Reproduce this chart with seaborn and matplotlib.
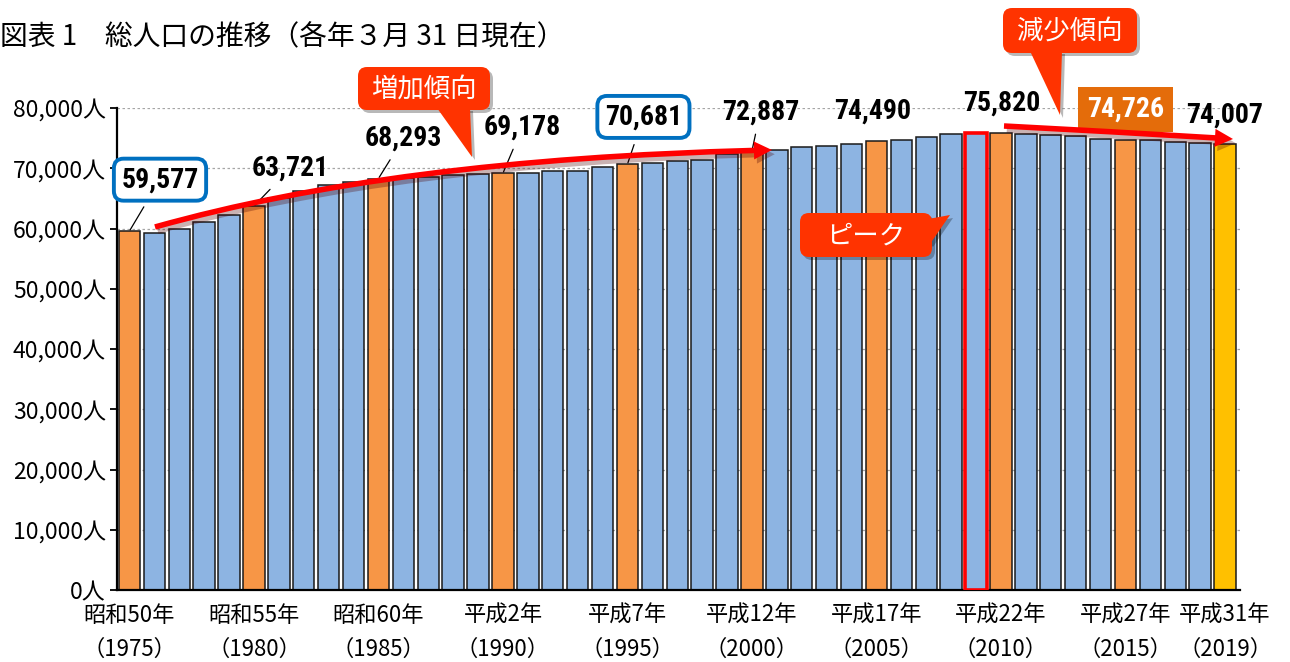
import matplotlib
matplotlib.use("Agg")
import matplotlib.pyplot as plt
import matplotlib.patheffects as pe
import pandas as pd
import seaborn as sns
from matplotlib import font_manager
from matplotlib.path import Path
from matplotlib.patches import FancyBboxPatch, Polygon, FancyArrowPatch

# data (persons, as of 31 March each year)
years = [1975, 1976, 1977, 1978, 1979, 1980, 1981, 1982, 1983, 1984,
         1985, 1986, 1987, 1988, 1989, 1990, 1991, 1992, 1993, 1994,
         1995, 1996, 1997, 1998, 1999, 2000, 2001, 2002, 2003, 2004,
         2005, 2006, 2007, 2008, 2009, 2010, 2011, 2012, 2013, 2014,
         2015, 2016, 2017, 2018, 2019]
population = [59577, 59180, 59900, 61000, 62300, 63721, 65000, 66300, 67200, 67800,
              68293, 68450, 68550, 68800, 69050, 69178, 69220, 69490, 69500, 70270,
              70681, 70820, 71150, 71380, 72380, 72887, 73090, 73470, 73700, 74040,
              74490, 74710, 75140, 75710, 75930, 75820, 75710, 75600, 75380, 74810,
              74726, 74650, 74430, 74260, 74007]

tick_years = [1975, 1980, 1985, 1990, 1995, 2000, 2005, 2010, 2015, 2019]
era_labels = ["昭和50年", "昭和55年", "昭和60年", "平成2年", "平成7年",
              "平成12年", "平成17年", "平成22年", "平成27年", "平成31年"]

census_years = [1975, 1980, 1985, 1990, 1995, 2000, 2005, 2010, 2015]
peak_year = 2009
latest_year = 2019

BLUE = "#8DB4E2"
ORANGE = "#F79646"
YELLOW = "#FFC000"
CALLOUT = "#FF3300"
BOX_BLUE = "#0070C0"
LABEL_ORANGE = "#E46C0A"

W, H = 1290, 662

sns.set_theme(style="white")
plt.rcParams["font.family"] = ["Noto Sans CJK JP", "DejaVu Sans"]

# pick a narrow face for the bold numbers if one is installed
names = {f.name for f in font_manager.fontManager.ttflist}
narrow = [n for n in ["Liberation Sans Narrow", "Roboto Condensed", "Noto Sans Condensed",
                      "Open Sans Condensed", "Arial Narrow"] if n in names]
narrow += sorted(n for n in names if ("Narrow" in n or "Condensed" in n) and n not in narrow)
if narrow:
    num_font, num_size = narrow[0], 20
else:
    num_font, num_size = "Liberation Sans", 17


def px(x, y):
    # reference pixel position -> inches (for fig.dpi_scale_trans)
    return (x / 100, (H - y) / 100)


def fpx(x, y):
    return (x / W, 1 - y / H)


fig = plt.figure(figsize=(W / 100, H / 100), dpi=100)
ax = fig.add_axes([117 / W, 1 - 590 / H, (1240 - 117) / W, (590 - 108) / H])

df = pd.DataFrame({"year": [str(y) for y in years], "pop": population})
palette = {}
for y in years:
    if y == latest_year:
        palette[str(y)] = YELLOW
    elif y in census_years:
        palette[str(y)] = ORANGE
    else:
        palette[str(y)] = BLUE

sns.barplot(data=df, x="year", y="pop", hue="year", palette=palette, legend=False,
            width=0.86, edgecolor="#1A1A1A", linewidth=1.1, saturation=1, ax=ax, zorder=2)

peak_idx = years.index(peak_year)
for patch in ax.patches:
    cx = patch.get_x() + patch.get_width() / 2
    if abs(cx - peak_idx) < 0.3:
        patch.set_edgecolor("#FF0000")
        patch.set_linewidth(2.6)
        patch.set_zorder(3)

ax.set_xlim(-0.5, 44.6)
ax.set_ylim(0, 80000)
ax.set_yticks(range(0, 80001, 10000))
ax.set_yticklabels([f"{v:,}人" for v in range(0, 80001, 10000)])
ax.set_xticks([years.index(y) for y in tick_years])
ax.set_xticklabels([f"{e}\n（{y}）" for e, y in zip(era_labels, tick_years)])
for t in ax.get_xticklabels():
    t.set_linespacing(1.6)
ax.set_xlabel("")
ax.set_ylabel("")
ax.tick_params(axis="y", direction="out", length=5, width=1.3, left=True, color="black",
               labelsize=16.5, pad=3, labelcolor="black")
ax.tick_params(axis="x", length=0, labelsize=16, pad=10, labelcolor="black")
ax.yaxis.grid(True, linestyle=(0, (2, 2)), color="#A6A6A6", linewidth=0.9)
ax.set_axisbelow(True)
for s in ["top", "right"]:
    ax.spines[s].set_visible(False)
for s in ["left", "bottom"]:
    ax.spines[s].set_color("black")
    ax.spines[s].set_linewidth(1.6)

# value labels: (year, dx, dy in points, leader line, box style)
label_specs = [
    (1975, 22, 37, True, "blue"),
    (1980, 26, 27, True, None),
    (1985, 18, 29, True, None),
    (1990, 14, 33, True, None),
    (1995, 11.5, 34, True, "blue"),
    (2000, 6, 28, True, None),
    (2005, -3, 22, False, None),
    (2010, 0.5, 22, False, None),
    (2015, 0, 22, False, "orange"),
    (2019, 0, 21, False, None),
]
for yr, dx, dy, leader, box in label_specs:
    i = years.index(yr)
    v = population[i]
    kw = dict(fontfamily=num_font, fontsize=num_size, fontweight="bold",
              ha="center", va="center", color="black", zorder=8)
    if box == "blue":
        kw["bbox"] = dict(boxstyle="round,pad=0.27,rounding_size=0.35", fc="white",
                          ec=BOX_BLUE, lw=2.8)
    elif box == "orange":
        kw["bbox"] = dict(boxstyle="square,pad=0.32", fc=LABEL_ORANGE, ec="none")
        kw["color"] = "white"
    if leader:
        kw["arrowprops"] = dict(arrowstyle="-", color="black", lw=0.9, shrinkA=4, shrinkB=1)
    ax.annotate(f"{v:,}", xy=(i, v), xytext=(dx, dy), textcoords="offset points", **kw)

tr = fig.dpi_scale_trans


def callout(box, tail, text, text_xy):
    x0, y0, x1, y1 = box
    sh = 3
    # soft shadow
    fig.add_artist(FancyBboxPatch(px(x0 + sh, y1 + sh), (x1 - x0) / 100, (y1 - y0) / 100,
                                  boxstyle="round,pad=0,rounding_size=0.09", fc="black",
                                  ec="none", alpha=0.28, transform=tr, zorder=5))
    fig.add_artist(Polygon([px(x + sh, y + sh) for x, y in tail], closed=True, fc="black",
                           ec="none", alpha=0.28, transform=tr, zorder=5))
    fig.add_artist(FancyBboxPatch(px(x0, y1), (x1 - x0) / 100, (y1 - y0) / 100,
                                  boxstyle="round,pad=0,rounding_size=0.09", fc=CALLOUT,
                                  ec="none", transform=tr, zorder=6))
    fig.add_artist(Polygon([px(x, y) for x, y in tail], closed=True, fc=CALLOUT,
                           ec="none", transform=tr, zorder=6))
    fig.text(*fpx(*text_xy), text, color="white", fontsize=19, ha="center", va="center",
             zorder=7)


def red_arrow(start, ctrl, end):
    path = Path([px(*start), px(*ctrl), px(*end)], [Path.MOVETO, Path.CURVE3, Path.CURVE3])
    arr = FancyArrowPatch(path=path, transform=tr,
                          arrowstyle="simple,head_length=13,head_width=13,tail_width=4",
                          mutation_scale=1, fc="#FF0000", ec="none", zorder=4,
                          path_effects=[pe.SimplePatchShadow(offset=(2, -3), alpha=0.3),
                                        pe.Normal()])
    fig.add_artist(arr)


red_arrow((155, 227), (400, 158), (772, 150))
red_arrow((1004, 126), (1120, 132), (1233, 139))

callout((358, 67, 490, 110), [(437, 108), (470, 108), (472, 157)], "増加傾向", (424, 89))
callout((1003, 8, 1137, 53), [(1030, 51), (1062, 51), (1060, 115)], "減少傾向", (1070, 31))
callout((800, 213, 932, 257), [(912, 222), (930, 244), (950, 215)], "ピーク", (866, 236))

fig.text(*fpx(0, 37), "図表 1　総人口の推移（各年３月 31 日現在）", fontsize=20,
         ha="left", va="center", color="black")

fig.savefig("out.png", dpi=100)
